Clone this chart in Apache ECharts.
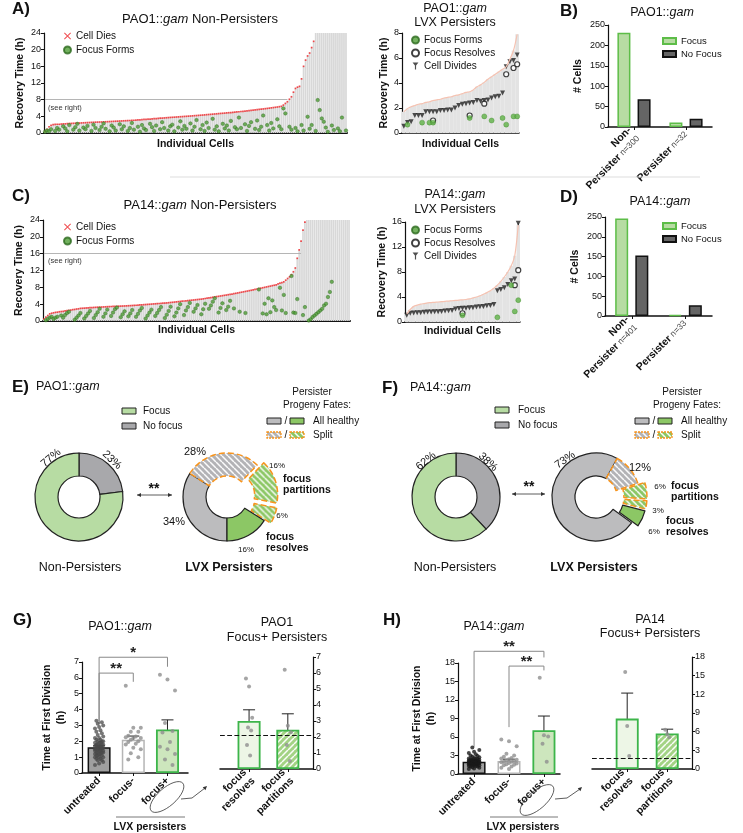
<!DOCTYPE html>
<html>
<head>
<meta charset="utf-8">
<script src="https://cdn.jsdelivr.net/npm/echarts@6/dist/echarts.min.js"></script>
<style>
html, body { margin: 0; padding: 0; background: #fff; }
#chart { width: 743px; height: 833px; }
</style>
</head>
<body>
<div id="chart"></div>
<script>
const FONT = '"Liberation Sans", Arial, sans-serif';

// A) PAO1::gam non-persisters, cells sorted by recovery time (h); 24 = no event within 24 h
const aDeath = [0.4, 0.9, 1.5, 1.85, 2.0, 2.05, 2.1, 2.1, 2.15, 2.2, 2.2, 2.25,
  2.28, 2.3, 2.33, 2.35, 2.38, 2.4, 2.42, 2.45, 2.47, 2.5, 2.52, 2.55, 2.57, 2.6, 2.62, 2.64, 2.65,
  2.68, 2.7, 2.72, 2.75, 2.77, 2.8, 2.83, 2.85, 2.88, 2.9, 2.93, 2.95, 2.98, 3.0, 3.03, 3.06,
  3.1, 3.13, 3.17, 3.2, 3.25, 3.28, 3.32, 3.35, 3.4, 3.43, 3.47, 3.5, 3.55, 3.58, 3.62, 3.66, 3.7,
  3.74, 3.77, 3.8, 3.84, 3.87, 3.91, 3.94, 3.98, 4.01, 4.05, 4.08, 4.12, 4.16, 4.19, 4.23, 4.27,
  4.31, 4.35, 4.4, 4.44, 4.48, 4.53, 4.57, 4.61, 4.66, 4.7, 4.74, 4.78, 4.83, 4.87, 4.91, 4.96, 5.0,
  5.05, 5.1, 5.16, 5.21, 5.27, 5.32, 5.38, 5.43, 5.49, 5.55, 5.6, 5.66, 5.72, 5.78, 5.84, 5.9,
  5.97, 6.04, 6.1, 6.17, 6.24, 6.32, 6.4,
  6.7, 7.1, 7.5, 8.1, 8.7, 9.8, 10.7, 11.0, 11.2, 13.0, 16.0, 17.5, 18.5, 19.2, 20.5, 22.0,
  24, 24, 24, 24, 24, 24, 24, 24, 24, 24, 24, 24, 24, 24, 24, 24];
const aFocus = [0.3, 0.6, 0.4, 0.9, null, 0.5, 1.2, 0.8, null, 1.6,
  1.1, 0.4, 1.9, null, 0.8, 1.4, 2.2, 0.6, null, 1.3,
  0.9, 1.7, null, 0.5, 2.0, 1.2, null, 0.7, 1.5, 2.3,
  1.0, null, 0.4, 1.8, 1.3, 0.6, null, 2.1, 0.9, 1.6,
  null, 0.5, 1.2, 2.4, 0.8, null, 1.5, 0.3, 1.9, 1.1,
  0.7, null, 2.2, 1.4, 0.5, 1.8, null, 0.9, 2.6, 1.2,
  null, 0.6, 1.6, 2.0, 0.4, null, 1.3, 2.8, 0.8, 1.7,
  1.0, null, 2.3, 0.6, 1.5, 3.1, null, 0.9, 1.9, 0.5,
  2.5, 1.2, null, 3.4, 0.8, 1.6, 0.4, null, 2.2, 1.1,
  1.8, 0.6, 2.9, null, 1.4, 0.9, 3.7, 1.2, null, 2.1,
  0.5, 1.7, 2.6, null, 1.0, 3.0, 0.7, 1.5, 4.2, null,
  1.9, 0.6, 2.4, 1.1, null, 3.3, 1.6, 0.9, 5.9, 4.7,
  null, 1.5, 0.8, null, 1.2, 0.4, null, 1.9, 0.6, null,
  3.9, 1.0, 1.9, null, 0.5, 7.9, 5.5, 3.5, 2.7, 1.3,
  0.3, null, 1.8, 0.7, null, 1.1, 0.4, 3.7, null, 0.6];

// A) PAO1::gam LVX persisters
const aPerBg = [1.7, 1.95, 2.1, 2.2, 2.3, 2.35, 2.45, 2.5, 2.6, 2.65, 2.7, 2.8, 2.85, 2.9, 3.0, 3.05,
  3.15, 3.25, 3.3, 3.45, 3.7, 3.85, 4.05, 4.3, 4.5, 4.7, 4.9, 5.1, 5.3, 5.9, 6.6, 7.9];
const aPerDivide = [0.55, 0.85, 0.9, 1.4, 1.4, 1.4, 1.7, 1.7, 1.7, 1.7, 1.8, 1.8, 1.85, 1.85, 2.0, 2.2,
  2.3, 2.35, 2.4, 2.45, 2.6, 2.55, 2.6, 2.65, 2.8, 2.9, 2.95, 3.2, 5.3, 5.7, 5.8, 6.25];
const aPerFocus = [[1, 0.67], [5, 0.83], [7, 0.83], [8, 0.83], [18, 1.2], [22, 1.33], [24, 1.0], [27, 1.2], [28, 0.67], [30, 1.33], [31, 1.33]];
const aPerResolve = [[8, 1.0], [18, 1.4], [22, 2.35], [28, 4.7], [30, 5.2], [31, 5.5]];

// C) PA14::gam non-persisters
const cDeath = [0.5, 0.9, 1.3, 1.7, 1.85, 1.95, 2.05, 2.1, 2.2, 2.25, 2.3, 2.4, 2.5,
  2.55, 2.6, 2.7, 2.75, 2.85, 2.9, 3.0,
  3.03, 3.06, 3.1, 3.13, 3.16, 3.19, 3.22, 3.25, 3.28, 3.3,
  3.32, 3.35, 3.37, 3.4, 3.42, 3.44, 3.46, 3.48, 3.5, 3.52, 3.54, 3.56, 3.58, 3.6, 3.63, 3.65, 3.68, 3.7,
  3.74, 3.77, 3.81, 3.84, 3.88, 3.91, 3.95, 3.98, 4.02, 4.06, 4.09, 4.13, 4.16, 4.2, 4.23, 4.27, 4.3,
  4.35, 4.4, 4.45, 4.5, 4.55, 4.6, 4.65, 4.7, 4.75, 4.8, 4.85, 4.9, 4.95, 5.0, 5.05, 5.1, 5.15, 5.2,
  5.27, 5.35, 5.42, 5.5, 5.57, 5.65, 5.72, 5.8, 5.87, 5.95, 6.02, 6.1, 6.17, 6.25, 6.32, 6.4, 6.5,
  6.58, 6.67, 6.76, 6.85, 6.94, 7.03, 7.12, 7.21, 7.3, 7.4, 7.5, 7.6, 7.7, 7.8, 7.9, 8.0, 8.1,
  8.2, 8.3, 8.4, 8.5, 8.6, 8.8, 9.0, 9.1, 9.3,
  9.7, 10.1, 10.5, 11.0, 11.7, 12.6, 14.9, 16.9, 19.0, 21.6, 23.5,
  24, 24, 24, 24, 24, 24, 24, 24, 24, 24, 24, 24, 24, 24, 24, 24, 24, 24, 24, 24, 24, 24, 24];
const cFocus = [null, 0.2, 0.5, 0.8, 1.0, 0.5, 0.8, 1.0, null, 1.3,
  0.8, 1.4, 1.9, 2.2, null, null, 0.3, 0.8, 1.3, 1.9,
  null, 0.6, 1.2, 1.8, 2.4, null, 0.7, 1.4, 2.1, 2.9,
  null, 1.0, 1.8, 2.7, null, 1.2, 2.0, 2.8, 3.2, null,
  0.9, 1.6, 2.3, null, 1.1, 1.8, 2.6, null, 1.0, 1.7,
  2.5, 3.1, null, 0.6, 1.3, 2.0, 2.7, null, 1.2, 1.9,
  2.6, 3.3, null, 0.7, 1.5, 2.4, 3.4, null, 1.1, 2.0,
  3.0, 4.0, null, 1.4, 2.5, 3.3, 4.3, null, 2.2, 3.0,
  3.8, null, 1.6, 2.8, 4.1, null, 2.9, 3.7, 4.6, 5.4,
  null, 2.0, 3.1, 4.2, null, 2.6, 3.4, 4.8, null, 3.0,
  null, null, 2.2, null, null, 1.9, null, null, null, null,
  null, null, 7.5, null, 1.8, 4.1, 1.6, 5.4, 2.1, 4.9,
  3.3, 2.6, null, 7.9, 2.5, 6.2, 1.9, null, null, 10.7,
  2.0, 1.9, 5.2, null, null, 1.4, 3.3, null, 0.1, 0.4,
  0.95, 1.3, 1.7, 2.1, 2.5, 2.9, 3.7, 4.1, 5.7, 6.9,
  9.3, null, null, null, null, null, null, null, null, null];

// C) PA14::gam LVX persisters
const cPerBg = [1.3, 2.0, 2.5, 2.7, 2.85, 2.95, 3.05, 3.1, 3.15, 3.2, 3.25, 3.3, 3.35, 3.4, 3.45, 3.5,
  3.55, 3.6, 3.7, 3.85, 4.0, 4.2, 4.45, 4.7, 5.0, 5.4, 5.9, 6.5, 7.2, 8.0, 9.0, 10.6, 15.5];
const cPerDivide = [1.07, 1.4, 1.45, 1.5, 1.5, 1.55, 1.6, 1.6, 1.65, 1.65, 1.7, 1.75, 1.8, 1.85, 2.1, 2.15,
  2.2, 2.2, 2.3, 2.3, 2.4, 2.45, 2.5, 2.6, 2.65, 2.8, 5.0, 5.2, 5.5, 6.0, 6.6, 6.9, 15.8];
const cPerFocus = [[16, 1.07], [26, 0.75], [30, 5.9], [31, 1.7], [32, 3.5]];
const cPerResolve = [[16, 1.4], [31, 5.9], [32, 8.3]];

// B) / D) cell counts
const barCats = ['Non-Persister', 'Persister'];
const bFocus = [231, 11];
const bNoFocus = [68, 20];
const bN = [300, 32];
const dFocus = [246, 3];
const dNoFocus = [153, 27];
const dN = [401, 33];

// E) / F) percentages
const eNonPct = [23, 77];               // no focus, focus
const ePerPct = [34, 28, 16, 6, 16];    // healthy no-focus, split no-focus, split partitions, split resolves, healthy resolves
const fNonPct = [38, 62];
const fPerPct = [73, 12, 6, 3, 6];

// G) PAO1 time at first division (h)
const gCats = ['untreated', 'focus-', 'focus+'];
const gMean = [1.62, 2.1, 2.75];
const gLo = [1.52, 1.88, 2.2];
const gHi = [1.72, 2.33, 3.35];
const gUntreated = [0.5, 0.6, 0.7, 0.8, 0.8, 0.9, 0.9, 1.0, 1.0, 1.0, 1.1, 1.1, 1.1, 1.2, 1.2, 1.2, 1.3, 1.3, 1.3, 1.3,
  1.4, 1.4, 1.4, 1.4, 1.5, 1.5, 1.5, 1.5, 1.5, 1.6, 1.6, 1.6, 1.6, 1.7, 1.7, 1.7, 1.7, 1.8, 1.8, 1.8, 1.8,
  1.9, 1.9, 1.9, 2.0, 2.0, 2.0, 2.1, 2.1, 2.2, 2.2, 2.3, 2.4, 2.5, 2.6, 2.7, 2.8, 2.9, 3.0, 3.1, 3.2, 3.3];
const gFocusNeg = [5.5, 2.85, 2.85, 2.6, 2.6, 2.35, 2.3, 2.25, 2.2, 2.2, 2.1, 2.0, 1.95, 1.85, 1.8, 1.6, 1.5, 1.25, 1.0, 0.85];
const gFocusPos = [6.2, 5.9, 5.2, 3.15, 2.65, 2.55, 1.95, 1.65, 1.5, 1.2, 0.85, 0.5];
const fpCats = ['focus\nresolves', 'focus\npartitions'];
const gFpMean = [3.0, 2.45];
const gFpLo = [2.35, 1.55];
const gFpHi = [3.7, 3.45];
const gResolves = [5.65, 5.15, 3.2, 2.6, 2.4, 1.5, 0.85];
const gPartitions = [6.2, 2.7, 2.3, 1.5, 0.5];
const gBaseline = 2.1;
const gBrackets = [[0, 1, 6.3, 3.1, 5.75], [0, 2, 7.3, 3.1, 6.7]];
const gStars = ['**', '*'];

// H) PA14 time at first division (h)
const hMean = [2.0, 2.1, 7.1];
const hLo = [1.9, 1.85, 4.9];
const hHi = [2.1, 2.4, 9.4];
const hUntreated = [0.8, 0.9, 1.0, 1.1, 1.2, 1.2, 1.3, 1.3, 1.4, 1.4, 1.5, 1.5, 1.5, 1.6, 1.6, 1.6, 1.7, 1.7, 1.7,
  1.8, 1.8, 1.8, 1.8, 1.9, 1.9, 1.9, 1.9, 2.0, 2.0, 2.0, 2.0, 2.1, 2.1, 2.1, 2.2, 2.2, 2.2, 2.3, 2.3, 2.4, 2.4,
  2.5, 2.5, 2.6, 2.7, 2.8, 2.9, 3.0, 3.2, 3.4, 3.6, 3.9, 4.3];
const hFocusNeg = [5.6, 5.3, 4.5, 3.3, 3.0, 2.8, 2.6, 2.5, 2.4, 2.3, 2.2, 2.1, 2.0, 2.0, 1.9, 1.8, 1.7, 1.6, 1.5, 1.4, 1.2, 1.0, 0.8];
const hFocusPos = [15.6, 6.3, 6.1, 4.9, 2.0];
const hFpMean = [8.1, 5.7];
const hFpLo = [4.3, 5.1];
const hFpHi = [12.2, 6.4];
const hResolves = [15.6, 6.9, 2.1];
const hPartitions = [6.3, 5.6, 5.1];
const hBaseline = 1.8;
const hBrackets = [[0, 2, 19.9, 4.4, 18.9], [1, 2, 17.5, 7.6, 16.8]];
const hStars = ['**', '**'];

// colours
const C_FOCUS = '#b7dca3';
const C_NOFOC = '#a8a8ab';
const C_PGRAY = '#bcbcbe';
const C_PGREEN = '#8cc765';
const C_ORANGE = '#f7941d';
const C_GLINE = '#3db54a';

function hatch(bg, down) {
  const s = 6;
  const c = document.createElement('canvas');
  c.width = s; c.height = s;
  const g = c.getContext('2d');
  g.fillStyle = bg; g.fillRect(0, 0, s, s);
  g.strokeStyle = 'rgba(255,255,255,0.95)'; g.lineWidth = 1.5;
  g.beginPath();
  [-s, 0, s].forEach(k => {
    if (down) { g.moveTo(k, 0); g.lineTo(k + s, s); } else { g.moveTo(k, s); g.lineTo(k + s, 0); }
  });
  g.stroke();
  return { image: c, repeat: 'repeat' };
}
const hatchGray = hatch('#b3b3b6', true);
const hatchGreen = hatch(C_PGREEN, true);
const hatchBar = hatch('#a3d384', false);

const nameStyle = { fontSize: 10.5, fontWeight: 'bold', fontFamily: FONT, color: '#111' };
const tickLabel = { fontSize: 9, color: '#111', fontFamily: FONT, margin: 3 };
const blackLine = (w) => ({ show: true, onZero: false, lineStyle: { color: '#111', width: w } });

const grids = [
  { left: 44, top: 33, width: 303, height: 100 },
  { left: 402, top: 33, width: 117, height: 100 },
  { left: 608, top: 25, width: 104, height: 102 },
  { left: 43, top: 220, width: 307, height: 101 },
  { left: 405, top: 222, width: 115, height: 100 },
  { left: 605, top: 217, width: 107, height: 99 },
  { left: 82, top: 662, width: 106, height: 111 },
  { left: 220, top: 657, width: 93, height: 112 },
  { left: 458, top: 663, width: 102, height: 111 },
  { left: 592, top: 657, width: 100, height: 112 }
].map(g => Object.assign(g, { containLabel: false, outerBoundsMode: 'none' }));

function yAx(gi, max, interval, extra) {
  return Object.assign({
    type: 'value', gridIndex: gi, min: 0, max, interval,
    axisLine: blackLine(1.2), axisTick: { show: true, length: 3, lineStyle: { color: '#111' } },
    axisLabel: tickLabel, splitLine: { show: false }, nameTextStyle: nameStyle, nameLocation: 'middle'
  }, extra || {});
}
function cellsAx(gi, n, gap, w) {
  return {
    type: 'category', gridIndex: gi, data: Array.from({ length: n }, (_, i) => i),
    axisLine: blackLine(w), axisTick: { show: false }, axisLabel: { show: false },
    name: 'Individual Cells', nameLocation: 'middle', nameGap: gap, nameTextStyle: nameStyle
  };
}
function countAx(gi, nArr) {
  return {
    type: 'category', gridIndex: gi, data: barCats,
    axisLine: blackLine(1.5), axisTick: { show: true, alignWithLabel: true, length: 3, lineStyle: { color: '#111' } },
    axisLabel: {
      rotate: 45, margin: 6, interval: 0,
      formatter: (v, i) => (i === 0 ? '{b|Non-}\n' : '') + '{b|Persister}{n| n=' + nArr[i] + '}',
      rich: {
        b: { fontSize: 10.5, fontWeight: 'bold', fontFamily: FONT, color: '#111', lineHeight: 12 },
        n: { fontSize: 8.5, fontFamily: FONT, color: '#444' }
      }
    }
  };
}
function groupAx(gi, min, max, names) {
  const vals = names.map((_, i) => i);
  return {
    type: 'value', gridIndex: gi, min, max,
    axisLine: blackLine(1.5), splitLine: { show: false },
    axisTick: { show: true, length: 3, customValues: vals, lineStyle: { color: '#111' } },
    axisLabel: {
      customValues: vals, rotate: 45, margin: 6, fontSize: 10.5, fontWeight: 'bold', fontFamily: FONT,
      color: '#111', lineHeight: 12, formatter: v => names[Math.round(v)]
    }
  };
}

const xAxes = [
  cellsAx(0, aDeath.length, 6, 2),
  cellsAx(1, aPerDivide.length, 6, 1.5),
  countAx(2, bN),
  cellsAx(3, cDeath.length, 4, 2),
  cellsAx(4, cPerDivide.length, 4, 1.5),
  countAx(5, dN),
  groupAx(6, -0.5, 2.6, gCats),
  groupAx(7, -0.75, 1.65, fpCats),
  groupAx(8, -0.46, 2.46, gCats),
  groupAx(9, -0.88, 1.62, fpCats)
];
const yAxes = [
  yAx(0, 24, 4, { name: 'Recovery Time (h)', nameGap: 18 }),
  yAx(1, 8, 2, { name: 'Recovery Time (h)', nameGap: 12 }),
  yAx(2, 250, 50, { name: '# Cells', nameGap: 24 }),
  yAx(3, 24, 4, { name: 'Recovery Time (h)', nameGap: 18 }),
  yAx(4, 16, 4, { name: 'Recovery Time (h)', nameGap: 16 }),
  yAx(5, 250, 50, { name: '# Cells', nameGap: 24 }),
  yAx(6, 7, 1, { name: 'Time at First Division\n(h)', nameGap: 14, nameTextStyle: Object.assign({ lineHeight: 14 }, nameStyle) }),
  yAx(7, 7, 1, { position: 'right' }),
  yAx(8, 18, 3, { name: 'Time at First Division\n(h)', nameGap: 20, nameTextStyle: Object.assign({ lineHeight: 14 }, nameStyle) }),
  yAx(9, 18, 3, { position: 'right' })
];

function stemItem(params, api) {
  const top = api.coord([api.value(0), api.value(1)]);
  const base = api.coord([api.value(0), 0]);
  return { type: 'line', shape: { x1: base[0], y1: base[1], x2: top[0], y2: top[1] }, style: { stroke: '#444', lineWidth: 1 } };
}
function errItem(params, api) {
  const x = api.value(0);
  const lo = api.coord([x, api.value(1)]);
  const hi = api.coord([x, api.value(2)]);
  const st = { stroke: '#222', lineWidth: 1 };
  return {
    type: 'group', children: [
      { type: 'line', shape: { x1: lo[0], y1: lo[1], x2: hi[0], y2: hi[1] }, style: st },
      { type: 'line', shape: { x1: lo[0] - 6, y1: lo[1], x2: lo[0] + 6, y2: lo[1] }, style: st },
      { type: 'line', shape: { x1: hi[0] - 6, y1: hi[1], x2: hi[0] + 6, y2: hi[1] }, style: st }
    ]
  };
}
function bracketItem(stars) {
  return (params, api) => {
    const a = api.coord([api.value(0), api.value(2)]);
    const b = api.coord([api.value(1), api.value(2)]);
    const a0 = api.coord([api.value(0), api.value(3)]);
    const b0 = api.coord([api.value(1), api.value(4)]);
    return {
      type: 'group', children: [
        { type: 'polyline', shape: { points: [a0, a, b, b0] }, style: { stroke: '#888', lineWidth: 1, fill: null } },
        { type: 'text', x: (a[0] + b[0]) / 2, y: a[1] + 3,
          style: { text: stars[params.dataIndex], textAlign: 'center', align: 'center', textVerticalAlign: 'bottom', verticalAlign: 'bottom',
            fontSize: 15, fontWeight: 'bold', fontFamily: FONT, fill: '#222' } }
      ]
    };
  };
}

function cellSeries(ax, death, focus, refY, refEnd) {
  return [
    { type: 'bar', xAxisIndex: ax, yAxisIndex: ax, data: death, barCategoryGap: '15%', silent: true,
      itemStyle: { color: '#d8d8d8' },
      markLine: { silent: true, symbol: 'none', label: { show: false }, lineStyle: { color: '#b5b5b5', width: 1, type: 'solid' },
        data: [[{ coord: [0, refY] }, { coord: [refEnd, refY] }]] } },
    { type: 'scatter', name: 'Cell Dies', xAxisIndex: ax, yAxisIndex: ax, silent: true, symbol: 'rect', symbolSize: 1.7,
      itemStyle: { color: '#ec2024' }, data: death.map((v, i) => [i, v]).filter(d => d[1] < 24) },
    { type: 'scatter', name: 'Focus Forms', xAxisIndex: ax, yAxisIndex: ax, silent: true, symbolSize: 3.5,
      itemStyle: { color: '#4f9e36', borderColor: '#2d6a1f', borderWidth: 0.5 },
      data: focus.map((v, i) => (v == null ? null : [i, v])).filter(Boolean) }
  ];
}
function persisterSeries(ax, bg, divide, focus, resolve) {
  const pts = divide.map((v, i) => [i, v]);
  return [
    { type: 'bar', xAxisIndex: ax, yAxisIndex: ax, data: bg, barCategoryGap: '0%', silent: true, itemStyle: { color: '#e3e3e3' } },
    { type: 'line', xAxisIndex: ax, yAxisIndex: ax, data: bg, smooth: 0.3, symbol: 'none', silent: true,
      lineStyle: { color: '#f5c2b1', width: 1.2 } },
    { type: 'custom', xAxisIndex: ax, yAxisIndex: ax, data: pts, renderItem: stemItem, encode: { x: 0, y: 1 }, silent: true },
    { type: 'scatter', name: 'Cell Divides', xAxisIndex: ax, yAxisIndex: ax, data: pts, silent: true,
      symbol: 'triangle', symbolRotate: 180, symbolSize: 5, itemStyle: { color: '#222' } },
    { type: 'scatter', name: 'Focus Resolves', xAxisIndex: ax, yAxisIndex: ax, data: resolve, silent: true, symbolSize: 5,
      itemStyle: { color: '#fff', borderColor: '#111', borderWidth: 1.2 } },
    { type: 'scatter', name: 'Focus Forms', xAxisIndex: ax, yAxisIndex: ax, data: focus, silent: true, symbolSize: 5,
      itemStyle: { color: '#5fb246', borderColor: '#3f8a2b', borderWidth: 0.5 } }
  ];
}
function countSeries(ax, focus, noFocus) {
  return [
    { type: 'bar', name: 'Focus', xAxisIndex: ax, yAxisIndex: ax, data: focus, barWidth: 13, barGap: '55%', silent: true,
      itemStyle: { color: C_FOCUS, borderColor: '#5dbd48', borderWidth: 1.5 } },
    { type: 'bar', name: 'No Focus', xAxisIndex: ax, yAxisIndex: ax, data: noFocus, barWidth: 13, silent: true,
      itemStyle: { color: '#656565', borderColor: '#111', borderWidth: 1.5 } }
  ];
}

// horizontal spread of dots inside a bar (layout only)
function spread(vals, k, w) {
  return vals.map((v, i) => [k + (((i * 3) % 7) - 3) / 3 * w, v]);
}
function divisionSeries(ax, means, lo, hi, styles, groups, dotStyles, baseline) {
  const s = [
    { type: 'bar', xAxisIndex: ax, yAxisIndex: ax, barWidth: 23, silent: true,
      data: means.map((m, i) => ({ value: [i, m], itemStyle: styles[i] })),
      markLine: baseline == null ? undefined : { silent: true, symbol: 'none', label: { show: false },
        lineStyle: { type: 'dashed', color: '#111', width: 1.2 }, data: [{ yAxis: baseline }] } }
  ];
  groups.forEach((g, k) => {
    s.push({ type: 'scatter', xAxisIndex: ax, yAxisIndex: ax, silent: true, symbolSize: 4,
      itemStyle: dotStyles[k], data: spread(g, k, dotStyles[k].w) });
  });
  s.push({ type: 'custom', xAxisIndex: ax, yAxisIndex: ax, silent: true, clip: false, renderItem: errItem,
    encode: { x: 0, y: [1, 2] }, data: means.map((m, i) => [i, lo[i], hi[i]]) });
  return s;
}

const untreatedStyle = { color: '#9f9f9f', borderColor: '#111', borderWidth: 1.5 };
const negStyle = { color: '#ffffff', borderColor: '#b5b5b5', borderWidth: 1.5 };
const posStyle = { color: '#cde6bd', borderColor: C_GLINE, borderWidth: 1.8 };
const resStyle = { color: '#edf6e6', borderColor: C_GLINE, borderWidth: 1.8 };
const partStyle = { color: hatchBar, borderColor: C_GLINE, borderWidth: 1.8 };
const dotGray = { color: '#8f8f8f', w: 0.22 };

function pieSeries(center, startAngle, items) {
  return { type: 'pie', center, radius: [21, 44], startAngle, clockwise: true, silent: true,
    selectedMode: 'multiple', selectedOffset: 7, label: { show: false }, labelLine: { show: false },
    emphasis: { disabled: true }, data: items };
}
const edgeBlack = { borderColor: '#222', borderWidth: 1.2 };
const edgeOrange = { borderColor: C_ORANGE, borderWidth: 1.5, borderType: 'dashed' };
const nonPie = (pct, tag) => [
  { name: tag + ' no focus', value: pct[0], itemStyle: Object.assign({ color: C_NOFOC }, edgeBlack) },
  { name: tag + ' focus', value: pct[1], itemStyle: Object.assign({ color: C_FOCUS }, edgeBlack) }
];
const perPie = (pct, tag, solidOut) => [
  { name: tag + ' healthy no focus', value: pct[0], itemStyle: Object.assign({ color: C_PGRAY }, edgeBlack) },
  { name: tag + ' split no focus', value: pct[1], itemStyle: Object.assign({ color: hatchGray }, edgeOrange) },
  { name: tag + ' split partitions', value: pct[2], selected: true, itemStyle: Object.assign({ color: hatchGreen }, edgeOrange) },
  { name: tag + ' split resolves', value: pct[3], selected: true, itemStyle: Object.assign({ color: hatchGreen }, edgeOrange) },
  { name: tag + ' healthy resolves', value: pct[4], selected: solidOut, itemStyle: Object.assign({ color: C_PGREEN }, edgeBlack) }
];

const series = [].concat(
  cellSeries(0, aDeath, aFocus, 8, 120),
  persisterSeries(1, aPerBg, aPerDivide, aPerFocus, aPerResolve),
  countSeries(2, bFocus, bNoFocus),
  cellSeries(3, cDeath, cFocus, 16, 134),
  persisterSeries(4, cPerBg, cPerDivide, cPerFocus, cPerResolve),
  countSeries(5, dFocus, dNoFocus),
  divisionSeries(6, gMean, gLo, gHi, [untreatedStyle, negStyle, posStyle], [gUntreated, gFocusNeg, gFocusPos],
    [{ color: '#4a4a4a', opacity: 0.75, w: 0.12 }, dotGray, dotGray], null),
  divisionSeries(7, gFpMean, gFpLo, gFpHi, [resStyle, partStyle], [gResolves, gPartitions],
    [{ color: '#8f8f8f', w: 0.08 }, { color: '#8f8f8f', w: 0.08 }], gBaseline),
  divisionSeries(8, hMean, hLo, hHi, [untreatedStyle, negStyle, posStyle], [hUntreated, hFocusNeg, hFocusPos],
    [{ color: '#1a1a1a', opacity: 0.8, w: 0.15 }, dotGray, { color: '#8f8f8f', w: 0.12 }], null),
  divisionSeries(9, hFpMean, hFpLo, hFpHi, [resStyle, partStyle], [hResolves, hPartitions],
    [{ color: '#8f8f8f', w: 0.05 }, { color: '#8f8f8f', w: 0.05 }], hBaseline),
  [
    { type: 'custom', xAxisIndex: 6, yAxisIndex: 6, silent: true, clip: false, renderItem: bracketItem(gStars),
      encode: { x: [0, 1], y: [2, 3, 4] }, data: gBrackets },
    { type: 'custom', xAxisIndex: 8, yAxisIndex: 8, silent: true, clip: false, renderItem: bracketItem(hStars),
      encode: { x: [0, 1], y: [2, 3, 4] }, data: hBrackets },
    pieSeries([79, 497], 90, nonPie(eNonPct, 'E')),
    pieSeries([227, 497], -90, perPie(ePerPct, 'E', false)),
    pieSeries([456, 497], 90, nonPie(fNonPct, 'F')),
    pieSeries([596, 497], -36, perPie(fPerPct, 'F', true))
  ]
);

const X_ICON = 'path://M1,0L5,4L9,0L10,1L6,5L10,9L9,10L5,6L1,10L0,9L4,5L0,1Z';
const TRI_ICON = 'path://M0,0H10L6,5V12H4V5Z';
const legendText = { fontSize: 10, fontFamily: FONT, color: '#111' };
function legend(left, top, gap, w, h, data, size) {
  return { left, top, orient: 'vertical', padding: 0, itemGap: gap, itemWidth: w, itemHeight: h, selectedMode: false,
    textStyle: Object.assign({}, legendText, { fontSize: size || 10 }), data };
}
const legends = [
  legend(63, 31, 4, 7, 7, [{ name: 'Cell Dies', icon: X_ICON }, { name: 'Focus Forms', icon: 'circle' }]),
  legend(63, 222, 4, 7, 7, [{ name: 'Cell Dies', icon: X_ICON }, { name: 'Focus Forms', icon: 'circle' }]),
  legend(411, 35, 3, 7, 7, [{ name: 'Focus Forms', icon: 'circle' }, { name: 'Focus Resolves', icon: 'circle' }, { name: 'Cell Divides', icon: TRI_ICON }]),
  legend(411, 225, 3, 7, 7, [{ name: 'Focus Forms', icon: 'circle' }, { name: 'Focus Resolves', icon: 'circle' }, { name: 'Cell Divides', icon: TRI_ICON }]),
  legend(662, 36, 3, 13, 6, [{ name: 'Focus', icon: 'rect' }, { name: 'No Focus', icon: 'rect' }], 9.5),
  legend(662, 221, 3, 13, 6, [{ name: 'Focus', icon: 'rect' }, { name: 'No Focus', icon: 'rect' }], 9.5)
];

// ---- annotations
const rich = (size) => ({
  n: { fontSize: size, fontFamily: FONT, fill: '#111' },
  i: { fontSize: size, fontFamily: FONT, fontStyle: 'italic', fill: '#111' }
});
function txt(x, y, text, o) {
  o = o || {};
  return { type: 'text', x, y, rotation: o.rot || 0, silent: true, z: 100,
    style: { text, fill: o.color || '#111', fontSize: o.size || 12, fontWeight: o.weight || 'normal', fontFamily: FONT,
      textAlign: o.align || 'center', textVerticalAlign: 'middle', lineHeight: o.lh, rich: o.rich } };
}
function title(x, y, text, size, align) {
  return txt(x, y, text, { rich: rich(size), size, align });
}
function box(x, y, fill, split) {
  return { type: 'rect', silent: true, z: 100, shape: { x, y, width: 14, height: 6 },
    style: { fill, stroke: split ? C_ORANGE : '#222', lineWidth: split ? 1.3 : 1, lineDash: split ? [2, 1] : null } };
}
function line(x1, y1, x2, y2, color, w) {
  return { type: 'line', silent: true, z: 100, shape: { x1, y1, x2, y2 }, style: { stroke: color || '#333', lineWidth: w || 1 } };
}
function head(x, y, dx, dy) {
  const L = 4, W = 2;
  const px = -dy, py = dx;
  return { type: 'polygon', silent: true, z: 100,
    shape: { points: [[x, y], [x - dx * L + px * W, y - dy * L + py * W], [x - dx * L - px * W, y - dy * L - py * W]] },
    style: { fill: '#333' } };
}
function doubleArrow(x1, x2, y) {
  return [line(x1, y, x2, y, '#333', 0.8), head(x1, y, -1, 0), head(x2, y, 1, 0)];
}
function fatesLegend(bx, tx, ty) {
  return [
    txt(tx, ty, 'Persister', { size: 10 }),
    txt(tx + 5, ty + 13, 'Progeny Fates:', { size: 10 }),
    box(bx, ty + 26, C_PGRAY), txt(bx + 19, ty + 29, '/', { size: 10 }), box(bx + 23, ty + 26, C_PGREEN),
    txt(bx + 46, ty + 29, 'All healthy', { size: 10, align: 'left' }),
    box(bx, ty + 40, hatchGray, true), txt(bx + 19, ty + 43, '/', { size: 10 }), box(bx + 23, ty + 40, hatchGreen, true),
    txt(bx + 46, ty + 43, 'Split', { size: 10, align: 'left' })
  ];
}
const pct = v => v + '%';
const bold = { size: 10.5, weight: 'bold', align: 'left', lh: 11 };

const graphics = [
  // A
  txt(12, 9, 'A)', { size: 17, weight: 'bold', align: 'left' }),
  title(200, 19, '{n|PAO1::}{i|gam}{n| Non-Persisters}', 13),
  txt(48, 108, '(see right)', { size: 7.5, align: 'left', color: '#333' }),
  title(455, 9, '{n|PAO1::}{i|gam}', 12.5),
  txt(455, 23, 'LVX Persisters', { size: 12.5 }),
  txt(560, 11, 'B)', { size: 17, weight: 'bold', align: 'left' }),
  title(662, 13, '{n|PAO1::}{i|gam}', 12.5),
  line(170, 177, 700, 177, '#dddddd', 1),
  // C / D
  txt(12, 196, 'C)', { size: 17, weight: 'bold', align: 'left' }),
  title(200, 205, '{n|PA14::}{i|gam}{n| Non-Persisters}', 13),
  txt(48, 261, '(see right)', { size: 7.5, align: 'left', color: '#333' }),
  title(455, 195, '{n|PA14::}{i|gam}', 12.5),
  txt(455, 210, 'LVX Persisters', { size: 12.5 }),
  txt(560, 197, 'D)', { size: 17, weight: 'bold', align: 'left' }),
  title(660, 202, '{n|PA14::}{i|gam}', 12.5),
  // E
  txt(12, 387, 'E)', { size: 17, weight: 'bold', align: 'left' }),
  title(36, 387, '{n|PAO1::}{i|gam}', 12.5, 'left'),
  box(122, 408, C_FOCUS), txt(143, 411, 'Focus', { size: 10, align: 'left' }),
  box(122, 423, C_NOFOC), txt(143, 426, 'No focus', { size: 10, align: 'left' }),
  ...fatesLegend(267, 312, 392),
  txt(154, 489, '**', { size: 14, weight: 'bold' }),
  ...doubleArrow(137, 172, 495),
  txt(51, 458, pct(eNonPct[1]), { size: 11, rot: 0.7 }),
  txt(112, 460, pct(eNonPct[0]), { size: 11, rot: -0.75 }),
  txt(195, 452, pct(ePerPct[1]), { size: 11 }),
  txt(174, 522, pct(ePerPct[0]), { size: 11 }),
  txt(277, 466, pct(ePerPct[2]), { size: 8 }),
  txt(282, 516, pct(ePerPct[3]), { size: 8 }),
  txt(246, 550, pct(ePerPct[4]), { size: 8 }),
  txt(283, 485, 'focus\npartitions', bold),
  txt(266, 543, 'focus\nresolves', bold),
  txt(80, 568, 'Non-Persisters', { size: 12.5 }),
  txt(229, 568, 'LVX Persisters', { size: 12.5, weight: 'bold' }),
  // F
  txt(382, 388, 'F)', { size: 17, weight: 'bold', align: 'left' }),
  title(410, 388, '{n|PA14::}{i|gam}', 12.5, 'left'),
  box(495, 407, C_FOCUS), txt(518, 410, 'Focus', { size: 10, align: 'left' }),
  box(495, 422, C_NOFOC), txt(518, 425, 'No focus', { size: 10, align: 'left' }),
  ...fatesLegend(635, 682, 392),
  txt(529, 487, '**', { size: 14, weight: 'bold' }),
  ...doubleArrow(512, 545, 494),
  txt(426, 461, pct(fNonPct[1]), { size: 11, rot: 0.7 }),
  txt(488, 462, pct(fNonPct[0]), { size: 11, rot: -0.75 }),
  txt(565, 460, pct(fPerPct[0]), { size: 11, rot: 0.6 }),
  txt(640, 468, pct(fPerPct[1]), { size: 11 }),
  txt(660, 487, pct(fPerPct[2]), { size: 8 }),
  txt(671, 492, 'focus\npartitions', bold),
  txt(658, 511, pct(fPerPct[3]), { size: 8 }),
  txt(666, 527, 'focus\nresolves', bold),
  txt(654, 532, pct(fPerPct[4]), { size: 8 }),
  txt(455, 568, 'Non-Persisters', { size: 12.5 }),
  txt(594, 568, 'LVX Persisters', { size: 12.5, weight: 'bold' }),
  // G
  txt(13, 620, 'G)', { size: 17, weight: 'bold', align: 'left' }),
  title(120, 627, '{n|PAO1::}{i|gam}', 12.5),
  txt(277, 623, 'PAO1', { size: 12.5 }),
  txt(277, 638, 'Focus+ Persisters', { size: 12.5 }),
  { type: 'ellipse', silent: true, z: 100, x: 167, y: 797, rotation: 0.72, shape: { cx: 0, cy: 0, rx: 21, ry: 9 },
    style: { fill: null, stroke: '#444', lineWidth: 0.8 } },
  { type: 'polyline', silent: true, z: 100, shape: { points: [[181, 799], [192, 798], [205, 788]] }, style: { stroke: '#333', lineWidth: 0.8, fill: null } },
  head(207, 786, 0.73, -0.68),
  line(116, 817, 185, 817, '#555', 0.8),
  txt(150, 827, 'LVX persisters', { size: 10.5, weight: 'bold' }),
  // H
  txt(383, 620, 'H)', { size: 17, weight: 'bold', align: 'left' }),
  title(494, 627, '{n|PA14::}{i|gam}', 12.5),
  txt(650, 620, 'PA14', { size: 12.5 }),
  txt(650, 634, 'Focus+ Persisters', { size: 12.5 }),
  { type: 'ellipse', silent: true, z: 100, x: 537, y: 800, rotation: 0.72, shape: { cx: 0, cy: 0, rx: 21, ry: 9 },
    style: { fill: null, stroke: '#444', lineWidth: 0.8 } },
  { type: 'polyline', silent: true, z: 100, shape: { points: [[555, 799], [567, 798], [580, 789]] }, style: { stroke: '#333', lineWidth: 0.8, fill: null } },
  head(582, 787, 0.73, -0.68),
  line(490, 817, 558, 817, '#555', 0.8),
  txt(523, 827, 'LVX persisters', { size: 10.5, weight: 'bold' })
];

const chart = echarts.init(document.getElementById('chart'), null, { renderer: 'canvas' });
chart.setOption({
  animation: false,
  backgroundColor: '#fff',
  textStyle: { fontFamily: FONT },
  grid: grids,
  xAxis: xAxes,
  yAxis: yAxes,
  legend: legends,
  series,
  graphic: { elements: graphics }
});
</script>
</body>
</html>
